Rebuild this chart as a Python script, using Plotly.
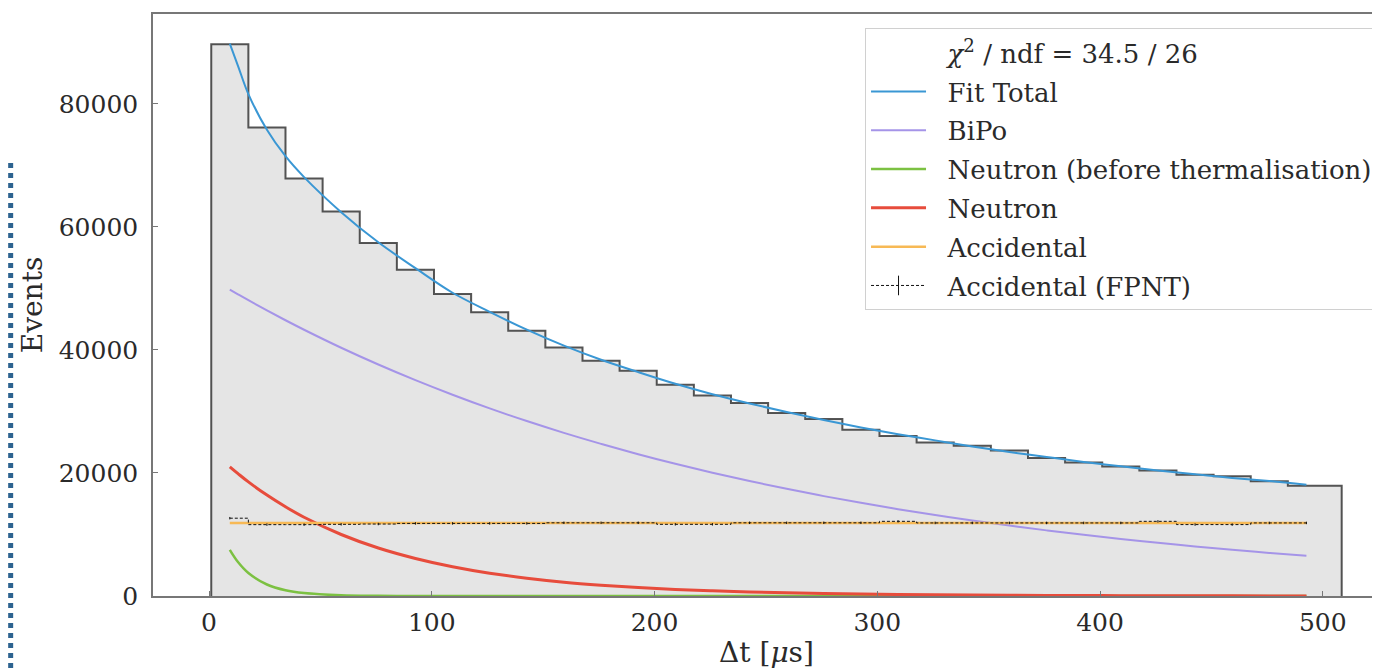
import plotly.graph_objects as go

# histogram of the time difference (binned data)
bin_edges = [1.0, 17.67, 34.33, 51.0, 67.67, 84.33, 101.0, 117.67, 134.33, 151.0,
             167.67, 184.33, 201.0, 217.67, 234.33, 251.0, 267.67, 284.33, 301.0, 317.67,
             334.33, 351.0, 367.67, 384.33, 401.0, 417.67, 434.33, 451.0, 467.67, 484.33, 508.5]
hist_counts = [89700, 76150, 67860, 62500, 57370, 53030, 49080, 46130, 43120, 40410,
               38240, 36620, 34340, 32610, 31370, 29750, 28770, 27030, 26010, 24970,
               24440, 23670, 22440, 21720, 21070, 20420, 19720, 19450, 18640, 17940]

# fit components
curve_t = [9.33, 13.0, 17.67, 26.0, 34.33, 42.67, 59.33, 76.0, 92.67, 109.33, 126.0,
           142.67, 159.33, 176.0, 192.67, 209.33, 226.0, 242.67, 259.33, 276.0, 292.67,
           309.33, 326.0, 342.67, 359.33, 376.0, 392.67, 409.33, 426.0, 442.67, 459.33,
           476.0, 492.67]
fit_total = [89800, 86200, 81600, 75800, 71500, 68100, 62400, 57500, 53300, 49300, 46200,
             43300, 40700, 38400, 36400, 34500, 32800, 31300, 29900, 28600, 27400,
             26300, 25300, 24300, 23400, 22600, 21800, 21100, 20400, 19800, 19200,
             18700, 18100]
bipo = [49800, 49040, 48090, 46430, 44830, 43290, 40360, 37630, 35090, 32720, 30500,
        28440, 26520, 24730, 23050, 21490, 20040, 18690, 17420, 16240, 15150,
        14120, 13170, 12280, 11450, 10670, 9950, 9280, 8650, 8060, 7520,
        7010, 6540]
neutron_bt = [7500, 5520, 3740, 1870, 930, 470, 116, 29, 7, 2, 0,
              0, 0, 0, 0, 0, 0, 0, 0, 0, 0,
              0, 0, 0, 0, 0, 0, 0, 0, 0, 0,
              0, 0]
neutron = [21000, 19900, 18550, 16400, 14500, 12800, 10000, 7800, 6100, 4750, 3700,
           2900, 2250, 1760, 1370, 1070, 840, 650, 510, 400, 310,
           240, 190, 150, 115, 90, 70, 55, 43, 34, 26,
           20, 16]
acc_t = [9.33, 492.67]
accidental = [11850, 11850]

# accidental estimate from FPNT, per bin
bin_centres = [9.33, 26.0, 42.67, 59.33, 76.0, 92.67, 109.33, 126.0, 142.67, 159.33,
               176.0, 192.67, 209.33, 226.0, 242.67, 259.33, 276.0, 292.67, 309.33, 326.0,
               342.67, 359.33, 376.0, 392.67, 409.33, 426.0, 442.67, 459.33, 476.0, 492.67]
acc_fpnt = [12650, 11600, 11600, 11650, 11700, 11800, 11800, 11800, 11800, 11900,
            11900, 11900, 11650, 11650, 11900, 11900, 11900, 11900, 12140, 11880,
            11880, 11880, 11880, 11880, 11880, 12140, 11610, 11610, 11880, 11880]
acc_fpnt_err = [200] * 30

serif = "DejaVu Serif"
text_col = "#2a2a2a"
pad = "\u00a0\u00a0"  # little gap between legend handle and label

fig = go.Figure()

fig.add_trace(go.Scatter(
    x=[bin_edges[0]] + bin_edges, y=[0] + hist_counts + [0],
    mode="lines", line=dict(color="rgba(30,30,30,0.75)", width=2, shape="hv"),
    fill="tozeroy", fillcolor="#e5e5e5", showlegend=False, hoverinfo="skip"))

fig.add_trace(go.Scatter(
    x=[None], y=[None], mode="lines", line=dict(color="rgba(0,0,0,0)"),
    name=pad + "<i>χ</i><sup>2</sup> / ndf = 34.5 / 26", legendgroup="g0"))

fig.add_trace(go.Scatter(x=curve_t, y=fit_total, mode="lines", name=pad + "Fit Total",
                         legendgroup="g1",
                         line=dict(color="#3a97d4", width=2, shape="spline")))
fig.add_trace(go.Scatter(x=curve_t, y=bipo, mode="lines", name=pad + "BiPo",
                         legendgroup="g2",
                         line=dict(color="#a594e8", width=2, shape="spline")))
fig.add_trace(go.Scatter(x=curve_t, y=neutron_bt, mode="lines",
                         name=pad + "Neutron (before thermalisation)", legendgroup="g3",
                         line=dict(color="#7cc142", width=2.5, shape="spline")))
fig.add_trace(go.Scatter(x=curve_t, y=neutron, mode="lines", name=pad + "Neutron",
                         legendgroup="g4",
                         line=dict(color="#e74c3c", width=3, shape="spline")))
fig.add_trace(go.Scatter(x=acc_t, y=accidental, mode="lines", name=pad + "Accidental",
                         legendgroup="g5",
                         line=dict(color="#f7b955", width=2.5)))
fig.add_trace(go.Scatter(
    x=bin_centres, y=acc_fpnt, mode="lines", showlegend=False, legendgroup="g6",
    line=dict(color="#111111", width=1, dash="3px,2px", shape="hvh"),
    error_y=dict(type="data", array=acc_fpnt_err, color="#111111", thickness=1, width=0)))
# legend handle with the error-bar tick
fig.add_trace(go.Scatter(
    x=[None], y=[None], mode="lines+markers", name=pad + "Accidental (FPNT)",
    legendgroup="g6",
    line=dict(color="#111111", width=1, dash="3px,2px"),
    marker=dict(symbol="line-ns-open", size=14, line=dict(color="#111111", width=1))))

# dotted blue border strip at the left edge of the picture
fig.add_shape(type="line", xref="paper", yref="paper", x0=-0.116, x1=-0.116,
              y0=(588.4 - 155) / 582.4, y1=-0.14,
              line=dict(color="#2d6390", width=5, dash="dot"))

axis_common = dict(showgrid=False, zeroline=False, showline=True, linecolor="#777777",
                   linewidth=1.5, ticks="inside", ticklen=5, tickcolor="#777777",
                   tickfont=dict(family=serif, size=25, color=text_col),
                   automargin=False)

fig.update_layout(
    width=1372, height=662,
    margin=dict(l=145, r=0, t=6, b=74),
    plot_bgcolor="white", paper_bgcolor="white",
    font=dict(family=serif, color=text_col),
    xaxis=dict(range=[-25.15, 525.7], tickvals=[0, 100, 200, 300, 400, 500], mirror=True,
               ticklabelstandoff=3,
               title=dict(text="Δt [<i>μ</i>s]", font=dict(family=serif, size=28),
                          standoff=7),
               **axis_common),
    yaxis=dict(range=[0, 94620], tickvals=[0, 20000, 40000, 60000, 80000],
               tickformat="d", ticklabelstandoff=8,
               title=dict(text="Events", font=dict(family=serif, size=28), standoff=8),
               **axis_common),
    legend=dict(x=0.5803, y=0.9755, xanchor="left", yanchor="top",
                bgcolor="rgba(255,255,255,0.85)", bordercolor="#d0d0d0", borderwidth=1,
                font=dict(family=serif, size=26, color=text_col), itemwidth=55,
                tracegroupgap=2),
)

fig.write_html("out.html")
